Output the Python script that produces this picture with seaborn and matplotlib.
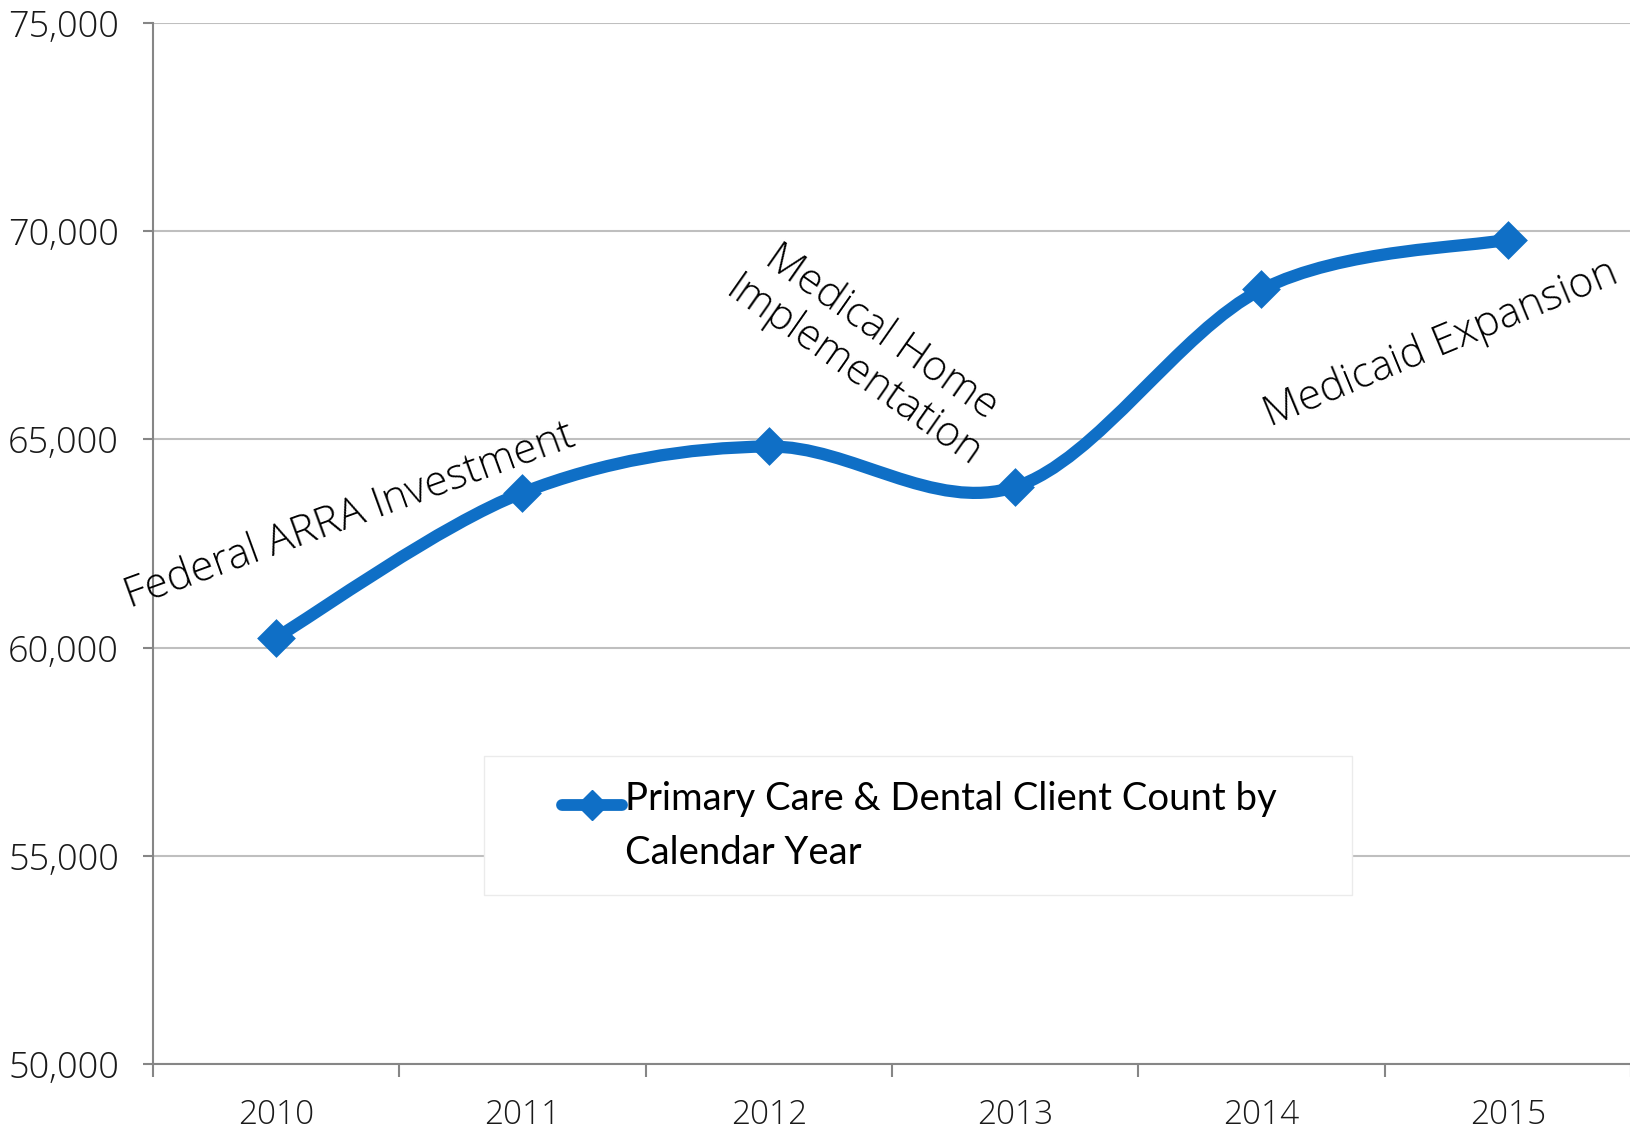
import numpy as np
import pandas as pd
import matplotlib.pyplot as plt
import seaborn as sns
from matplotlib.path import Path
from matplotlib.patches import PathPatch, Rectangle
from matplotlib.lines import Line2D
from matplotlib.legend_handler import HandlerLine2D
from matplotlib.ticker import FuncFormatter

sns.set_style('white')
plt.rcParams['font.family'] = ['Open Sans', 'DejaVu Sans']

years = ['2010', '2011', '2012', '2013', '2014', '2015']
clients = [60240, 63720, 64830, 63860, 68600, 69800]
series_label = 'Primary Care & Dental Client Count by\nCalendar Year'

notes = ['Federal ARRA Investment', 'Medical Home\nImplementation', 'Medicaid Expansion']
note_x = [0.30, 2.40, 4.73]
note_y = [63150, 67100, 67300]
note_rot = [20, -35, 22.5]

blue = '#0F6FC6'
grid_c = '#BFBFBF'
axis_c = '#868686'
text_c = '#1A1A1A'


class FirstLineHandler(HandlerLine2D):
    # keep the legend line level with the first text line, like Excel does
    def create_artists(self, legend, orig_handle, xdescent, ydescent, width, height,
                       fontsize, trans):
        return super().create_artists(legend, orig_handle, xdescent, ydescent - 32,
                                      width, height, fontsize, trans)


df = pd.DataFrame({'year': years, 'clients': clients})
df['pos'] = np.arange(len(df))

fig = plt.figure(figsize=(16.31, 11.30), dpi=100)
ax = fig.add_axes([153 / 1631, 66 / 1130, 1478 / 1631, 1041 / 1130])

# smoothed line (Excel style: Catmull-Rom with 1/6 tension), as bezier segments
xs = df['pos'].to_numpy(float)
ys = df['clients'].to_numpy(float)
px = np.concatenate([[xs[0]], xs, [xs[-1]]])
py = np.concatenate([[ys[0]], ys, [ys[-1]]])
verts = [(xs[0], ys[0])]
codes = [Path.MOVETO]
for i in range(1, len(px) - 2):
    c1 = (px[i] + (px[i + 1] - px[i - 1]) / 6, py[i] + (py[i + 1] - py[i - 1]) / 6)
    c2 = (px[i + 1] - (px[i + 2] - px[i]) / 6, py[i + 1] - (py[i + 2] - py[i]) / 6)
    verts += [c1, c2, (px[i + 1], py[i + 1])]
    codes += [Path.CURVE4] * 3
ax.add_patch(PathPatch(Path(verts, codes), facecolor='none', edgecolor=blue,
                       lw=8.8, capstyle='round', joinstyle='round', zorder=3))

sns.scatterplot(data=df, x='pos', y='clients', marker='D', s=390, color=blue,
                edgecolor=blue, linewidth=0, zorder=4, ax=ax, legend=False)

ax.set_xlim(-0.5, 5.5)
ax.set_ylim(50000, 75000)
ax.set_yticks(np.arange(50000, 75001, 5000))
ax.yaxis.set_major_formatter(FuncFormatter(lambda v, p: f'{int(v):,}'))
ax.set_xticks(np.arange(-0.5, 6, 1))
ax.set_xticklabels([])
ax.set_xticks(df['pos'], minor=True)
ax.set_xticklabels(years, minor=True)
ax.tick_params(axis='x', which='major', bottom=True, length=9, width=1.5, color=axis_c,
               direction='out')
ax.tick_params(axis='x', which='minor', bottom=True, length=0, pad=25, labelsize=24,
               labelcolor=text_c)
ax.tick_params(axis='y', left=True, length=7.5, width=1.5, color=axis_c, pad=17,
               labelsize=26, labelcolor=text_c, direction='out')
for lab in ax.get_xticklabels(minor=True) + ax.get_yticklabels():
    lab.set_fontweight('light')

ax.grid(axis='y', color=grid_c, lw=1.5)
ax.set_axisbelow(True)
for s in ['top', 'right']:
    ax.spines[s].set_visible(False)
for s in ['left', 'bottom']:
    ax.spines[s].set_color(axis_c)
    ax.spines[s].set_linewidth(1.5)
ax.set_xlabel('')
ax.set_ylabel('')

for t, x, y, r in zip(notes, note_x, note_y, note_rot):
    ax.text(x, y, t, rotation=r, rotation_mode='anchor', ha='center', va='center',
            fontsize=30.5, fontweight='light', color='black', linespacing=1.2, zorder=5)

# legend: frame drawn separately so the side padding can be wider than top/bottom
ax.add_patch(Rectangle((0.224, 0.162), 0.587, 0.134, transform=ax.transAxes,
                       facecolor='white', edgecolor='#EBEBEB', lw=1, zorder=6))
handle = Line2D([], [], color=blue, lw=8.5, marker='D', markersize=15,
                solid_capstyle='round')
leg = ax.legend([handle], [series_label], loc='upper left', bbox_to_anchor=(0.277, 0.272),
                frameon=False, fontsize=27.5, handlelength=1.55, handletextpad=0.08,
                borderpad=0, borderaxespad=0, labelspacing=0,
                handler_map={Line2D: FirstLineHandler()})
leg.set_zorder(7)
for txt in leg.get_texts():
    txt.set_family(['Lato', 'DejaVu Sans'])
    txt.set_linespacing(1.62)
    txt.set_color('black')

fig.savefig('out.png', dpi=100)
